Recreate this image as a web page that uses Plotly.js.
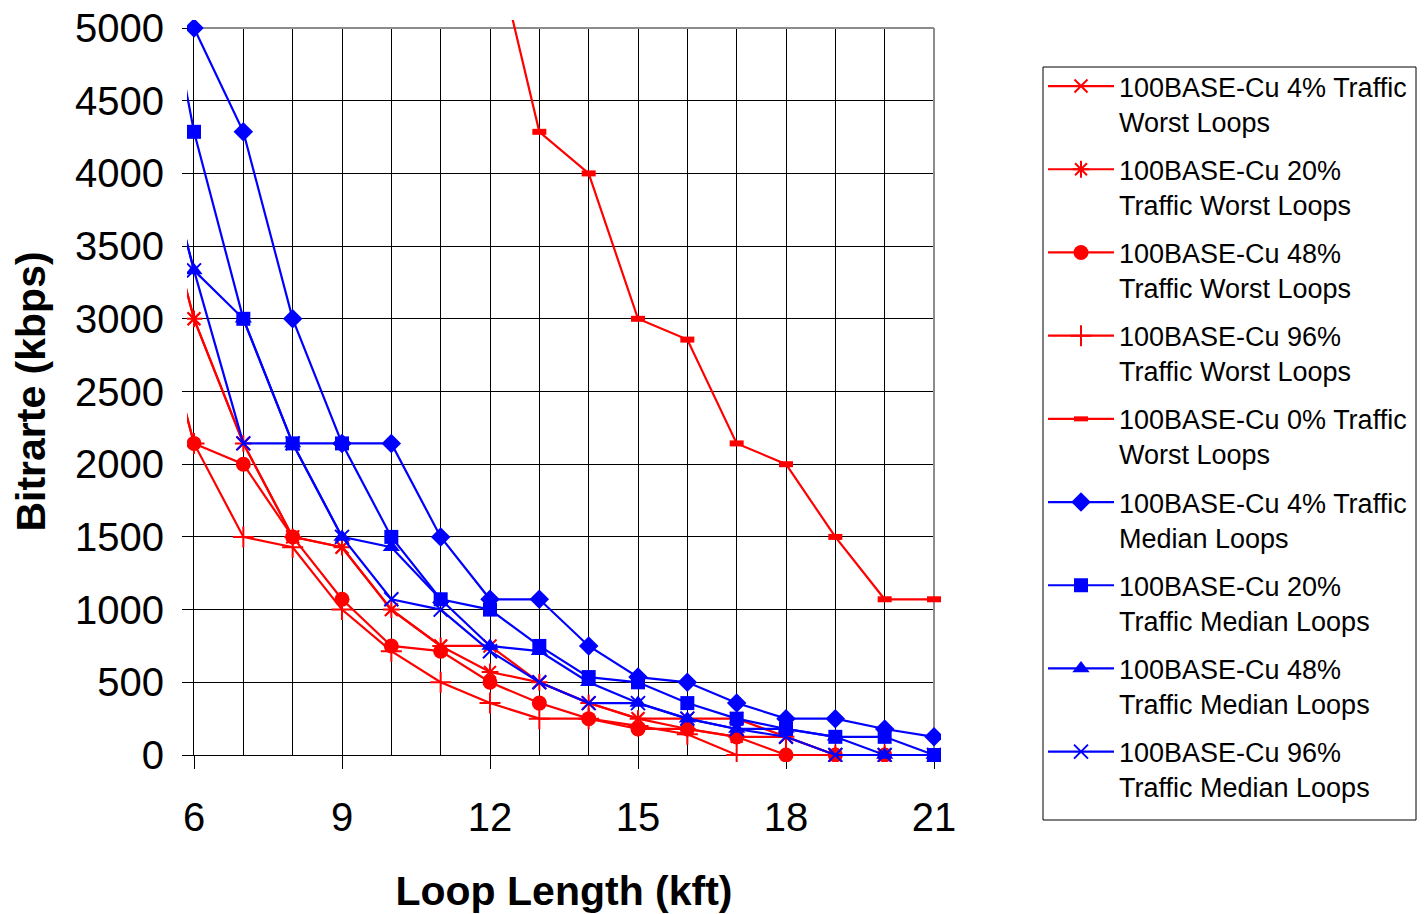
<!DOCTYPE html>
<html>
<head>
<meta charset="utf-8">
<script src="https://cdn.plot.ly/plotly-3.0.1.min.js"></script>
<style>html,body{margin:0;padding:0;background:#fff;}#chart{width:1427px;height:914px;}</style>
</head>
<body>
<div id="chart"></div>
<script>
// ---- data (loop length in kft, bitrate in kbps) ----
const loopLength = [5, 6, 7, 8, 9, 10, 11, 12, 13, 14, 15, 16, 17, 18, 19, 20, 21];

const worst4  = [4286, 3000, 2143, 1500, 1429, 1000, 750, 750, 500, 357, 250, 250, 250, 125, 0, 0, null];
const worst20 = [4286, 3000, 2143, 1500, 1429, 1000, 750, 571, 500, 357, 250, 179, 125, 125, 0, 0, null];
const worst48 = [3429, 2143, 2000, 1500, 1071, 750, 714, 500, 357, 250, 179, 179, 125, 0, 0, 0, null];
const worst96 = [3429, 2143, 1500, 1429, 1000, 714, 500, 357, 250, 250, 200, 143, 0, 0, 0, 0, null];
const worst0  = [null, null, null, null, null, null, null, 5714, 4286, 4000, 3000, 2857, 2143, 2000, 1500, 1071, 1071];
const median4  = [null, 5000, 4286, 3000, 2143, 2143, 1500, 1071, 1071, 750, 536, 500, 357, 250, 250, 179, 125];
const median20 = [6071, 4286, 3000, 2143, 2143, 1500, 1071, 1000, 750, 536, 500, 357, 250, 179, 125, 125, 0];
const median48 = [4643, 3333, 3000, 2143, 1500, 1429, 1071, 750, 714, 500, 357, 250, 179, 179, 125, 0, 0];
const median96 = [4643, 3333, 2143, 2143, 1500, 1071, 1000, 714, 500, 357, 357, 250, 179, 125, 0, 0, 0];

const seriesNames = [
  "100BASE-Cu 4% Traffic<br>Worst Loops",
  "100BASE-Cu 20%<br>Traffic Worst Loops",
  "100BASE-Cu 48%<br>Traffic Worst Loops",
  "100BASE-Cu 96%<br>Traffic Worst Loops",
  "100BASE-Cu 0% Traffic<br>Worst Loops",
  "100BASE-Cu 4% Traffic<br>Median Loops",
  "100BASE-Cu 20%<br>Traffic Median Loops",
  "100BASE-Cu 48%<br>Traffic Median Loops",
  "100BASE-Cu 96%<br>Traffic Median Loops"
];
const seriesValues = [worst4, worst20, worst48, worst96, worst0, median4, median20, median48, median96];

// ---- styles ----
const RED = '#FF0000', BLUE = '#0000FF';
const styles = [
  {c: RED,  sym: 'x-thin-open',    size: 13, lw: 2},
  {c: RED,  sym: 'asterisk-open',  size: 14, lw: 2},
  {c: RED,  sym: 'circle',         size: 15, lw: 0},
  {c: RED,  sym: 'cross-thin-open',size: 15, lw: 2},
  {c: RED,  sym: 'line-ew-open',   size: 10, lw: 6},
  {c: BLUE, sym: 'diamond',        size: 15, lw: 0},
  {c: BLUE, sym: 'square',         size: 14, lw: 0},
  {c: BLUE, sym: 'triangle-up',    size: 15, lw: 0},
  {c: BLUE, sym: 'x-thin-open',    size: 14, lw: 2}
];

// ---- geometry (pixels) ----
const W = 1427, H = 914;
const padL = 187, padR = 941, padT = 20, padB = 762;      // clip area for data
const gL = 194, gR = 934, gT = 28, gB = 755;              // grid (plot) area
const xMin = 6, xMax = 21, yMin = 0, yMax = 5000;
const pxPerX = (gR - gL) / (xMax - xMin);
const pxPerY = (gB - gT) / (yMax - yMin);
const pw = padR - padL, ph = padB - padT;
const legBox = {l: 1043, r: 1416, t: 67, b: 820};
const px2paperX = p => (p - padL) / pw;
const px2paperY = p => (padB - p) / ph;

const traces = seriesNames.map((name, i) => {
  const s = styles[i];
  return {
    x: loopLength, y: seriesValues[i], name: name,
    type: 'scatter', mode: 'lines+markers',
    xaxis: 'x2', yaxis: 'y2',
    legendgroup: 'g' + i,
    cliponaxis: true, connectgaps: false,
    line: {color: s.c, width: 2.2},
    marker: {symbol: s.sym, size: s.size, color: s.c,
             line: {color: s.c, width: s.lw}},
    hoverinfo: 'x+y'
  };
});
// invisible anchor trace for the grid axes
traces.unshift({x: [xMin], y: [yMin], xaxis: 'x', yaxis: 'y', mode: 'markers',
  marker: {opacity: 0}, showlegend: false, hoverinfo: 'skip', type: 'scatter'});

const FONT = 'Liberation Sans, Arial, sans-serif';

const layout = {
  width: W, height: H,
  margin: {l: padL, r: W - padR, t: padT, b: H - padB, pad: 0},
  paper_bgcolor: '#ffffff', plot_bgcolor: 'rgba(0,0,0,0)',
  font: {family: FONT, color: '#000'},
  showlegend: true,
  xaxis: {
    domain: [(gL - padL) / pw, (gR - padL) / pw],
    anchor: 'y', range: [xMin, xMax], autorange: false,
    tick0: 6, dtick: 3, ticks: 'outside', ticklen: 13, tickcolor: '#000', tickwidth: 1,
    showline: true, linecolor: '#000', linewidth: 1,
    showgrid: true, gridcolor: '#000', gridwidth: 1, zeroline: false,
    minor: {tick0: 6, dtick: 1, showgrid: true, gridcolor: '#000', gridwidth: 1, ticks: ''},
    tickfont: {size: 40, family: FONT},
    ticklabelstandoff: 14,
    title: {text: '<b>Loop Length (kft)</b>', font: {size: 41, family: FONT}, standoff: 38},
    automargin: false, fixedrange: true
  },
  yaxis: {
    domain: [(padB - gB) / ph, (padB - gT) / ph],
    anchor: 'x', range: [yMin, yMax], autorange: false,
    dtick: 500, ticks: 'outside', ticklen: 11, tickcolor: '#000', tickwidth: 1,
    showline: true, linecolor: '#000', linewidth: 1,
    showgrid: true, gridcolor: '#000', gridwidth: 1, zeroline: false,
    tickfont: {size: 40, family: FONT},
    ticklabelstandoff: 10,
    title: {text: '<b>Bitrarte (kbps)</b>', font: {size: 41, family: FONT}, standoff: 16},
    automargin: false, fixedrange: true
  },
  xaxis2: {
    domain: [0, 1], anchor: 'y2', visible: false, autorange: false, fixedrange: true,
    range: [xMin - (gL - padL) / pxPerX, xMax + (padR - gR) / pxPerX]
  },
  yaxis2: {
    domain: [0, 1], anchor: 'x2', visible: false, autorange: false, fixedrange: true,
    range: [yMin - (padB - gB) / pxPerY, yMax + (gT - padT) / pxPerY]
  },
  shapes: [
    {type: 'line', xref: 'x2', yref: 'y2', x0: xMin, x1: xMax, y0: yMax, y1: yMax,
     line: {color: '#8c8c8c', width: 2}, layer: 'below'},
    {type: 'line', xref: 'x2', yref: 'y2', x0: xMax, x1: xMax, y0: yMin, y1: yMax,
     line: {color: '#8c8c8c', width: 2}, layer: 'below'},
    {type: 'rect', xref: 'paper', yref: 'paper',
     x0: px2paperX(legBox.l), x1: px2paperX(legBox.r),
     y0: px2paperY(legBox.b), y1: px2paperY(legBox.t),
     line: {color: '#000', width: 1}, fillcolor: '#ffffff', layer: 'below'}
  ],
  legend: {
    x: px2paperX(legBox.l), y: px2paperY(legBox.t - 5), xanchor: 'left', yanchor: 'top',
    bgcolor: 'rgba(0,0,0,0)', borderwidth: 0,
    font: {size: 27, family: FONT, color: '#000'},
    valign: 'top', traceorder: 'grouped', tracegroupgap: 10, itemwidth: 66
  }
};

Plotly.newPlot('chart', traces, layout, {displayModeBar: false, staticPlot: true});
</script>
</body>
</html>
